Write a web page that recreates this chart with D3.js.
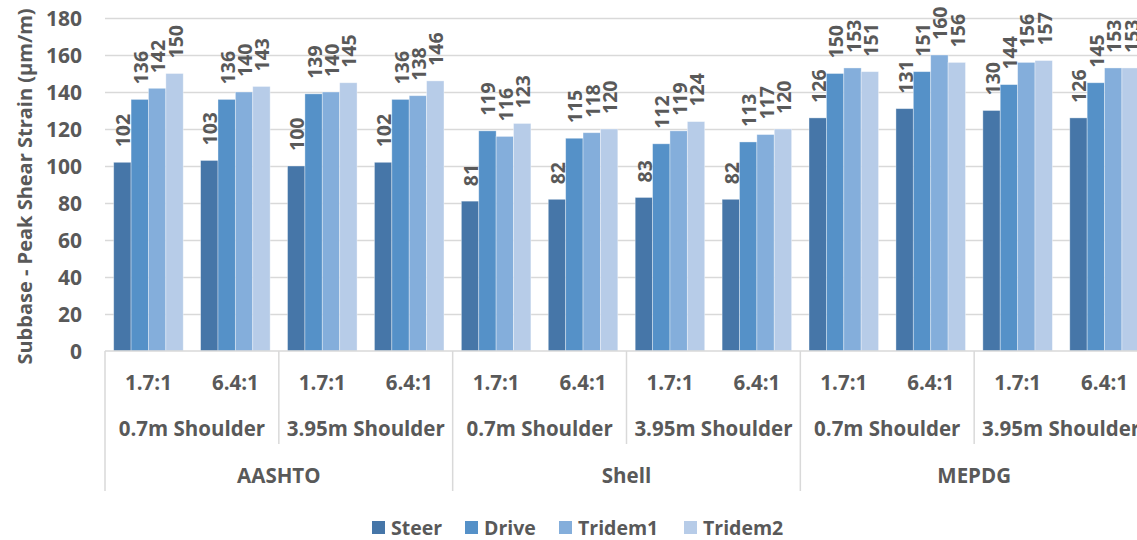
<!DOCTYPE html>
<html>
<head>
<meta charset="utf-8">
<script src="https://cdn.jsdelivr.net/npm/d3@7"></script>
<style>
  html, body { margin: 0; padding: 0; background: #fff; }
  svg { display: block; }
  text { font-family: "Open Sans", sans-serif; font-weight: 700; fill: #595959; }
</style>
</head>
<body>
<svg id="chart" width="1137" height="540"></svg>
<script>
// Subbase peak shear strain by axle type, grouped by load ratio / shoulder width / design method
const series = ["Steer", "Drive", "Tridem1", "Tridem2"];
const ratios = ["1.7:1", "6.4:1", "1.7:1", "6.4:1", "1.7:1", "6.4:1", "1.7:1", "6.4:1", "1.7:1", "6.4:1", "1.7:1", "6.4:1"];
const shoulders = ["0.7m Shoulder", "3.95m Shoulder", "0.7m Shoulder", "3.95m Shoulder", "0.7m Shoulder", "3.95m Shoulder"];
const methods = ["AASHTO", "Shell", "MEPDG"];
const steer   = [102, 103, 100, 102, 81, 82, 83, 82, 126, 131, 130, 126];
const drive   = [136, 136, 139, 136, 119, 115, 112, 113, 150, 151, 144, 145];
const tridem1 = [142, 140, 140, 138, 116, 118, 119, 117, 153, 160, 156, 153];
const tridem2 = [150, 143, 145, 146, 123, 120, 124, 120, 151, 156, 157, 153];
const yTicks = [0, 20, 40, 60, 80, 100, 120, 140, 160, 180];
const colors = ["#4676a8", "#5591c8", "#84aedb", "#b7cce8"];

const seriesValues = [steer, drive, tridem1, tridem2];

const svg = d3.select("#chart");
const plotLeft = 105, plotRight = 1148, plotTop = 18, plotBottom = 351;

const x = d3.scaleBand().domain(d3.range(ratios.length)).range([plotLeft, plotRight]);
const xs = d3.scaleBand().domain(series).range([0, x.bandwidth()]).paddingOuter(0.5);
const y = d3.scaleLinear().domain([0, 180]).range([plotBottom, plotTop]);
const color = d3.scaleOrdinal().domain(series).range(colors);

// gridlines + y tick labels
const yAxis = d3.axisLeft(y).tickValues(yTicks).tickSize(-(plotRight - plotLeft)).tickPadding(23);
const gy = svg.append("g").attr("transform", `translate(${plotLeft},0)`).call(yAxis);
gy.select(".domain").remove();
gy.selectAll(".tick line").attr("stroke", "#d9d9d9").attr("stroke-width", 1.3);
gy.selectAll(".tick text").style("font-size", "21px").attr("dy", "0.36em").attr("fill", "#595959");
gy.selectAll(".tick").filter(d => d === 0).select("line").remove();

// y axis title
svg.append("text")
  .attr("transform", `translate(25, ${(plotTop + plotBottom) / 2 + 2}) rotate(-90)`)
  .attr("text-anchor", "middle")
  .attr("dy", "0.35em")
  .style("font-size", "20px")
  .text("Subbase - Peak Shear Strain (μm/m)");

// bars
const rows = ratios.map((r, i) => ({ i, values: series.map((s, k) => ({ s, v: seriesValues[k][i] })) }));
const groups = svg.append("g").selectAll("g").data(rows).join("g")
  .attr("transform", d => `translate(${x(d.i)},0)`);

groups.selectAll("rect").data(d => d.values).join("rect")
  .attr("x", d => xs(d.s))
  .attr("y", d => y(d.v))
  .attr("width", xs.bandwidth())
  .attr("height", d => y(0) - y(d.v))
  .attr("fill", d => color(d.s))
  .attr("stroke", "rgba(255,255,255,0.45)")
  .attr("stroke-width", 0.8);

// value labels, rotated above each bar
groups.selectAll("text").data(d => d.values).join("text")
  .attr("transform", d => `translate(${xs(d.s) + xs.bandwidth() / 2 + 1}, ${y(d.v) - 15}) rotate(-90)`)
  .attr("dy", "0.36em")
  .style("font-size", "19.5px")
  .text(d => d.v);

// category axis baseline
svg.append("line")
  .attr("x1", plotLeft).attr("x2", plotRight).attr("y1", plotBottom).attr("y2", plotBottom)
  .attr("stroke", "#d9d9d9").attr("stroke-width", 1.5);

const axisG = svg.append("g");
const bw = x.bandwidth();

// level 1: load ratio
axisG.selectAll("text.ratio").data(ratios).join("text")
  .attr("class", "ratio")
  .attr("x", (d, i) => x(i) + bw / 2)
  .attr("y", 383)
  .attr("text-anchor", "middle")
  .attr("dy", "0.35em")
  .style("font-size", "20.5px")
  .text(d => d);

// level 2: shoulder width
axisG.selectAll("text.shoulder").data(shoulders).join("text")
  .attr("class", "shoulder")
  .attr("x", (d, i) => x(i * 2) + bw)
  .attr("y", 429)
  .attr("text-anchor", "middle")
  .attr("dy", "0.35em")
  .style("font-size", "20.5px")
  .text(d => d);

// level 3: design method
axisG.selectAll("text.method").data(methods).join("text")
  .attr("class", "method")
  .attr("x", (d, i) => x(i * 4) + bw * 2)
  .attr("y", 476)
  .attr("text-anchor", "middle")
  .attr("dy", "0.35em")
  .style("font-size", "20.5px")
  .text(d => d);

// separators between shoulder groups (short) and method groups (long)
const shoulderEdges = d3.range(1, shoulders.length).filter(k => k % 2 === 1).map(k => x(k * 2));
const methodEdges = [plotLeft].concat(d3.range(1, methods.length).map(k => x(k * 4)));
axisG.selectAll("line.sh").data(shoulderEdges).join("line")
  .attr("x1", d => d).attr("x2", d => d).attr("y1", plotBottom).attr("y2", 444)
  .attr("stroke", "#d9d9d9").attr("stroke-width", 1.5);
axisG.selectAll("line.me").data(methodEdges).join("line")
  .attr("x1", d => d).attr("x2", d => d).attr("y1", plotBottom).attr("y2", 491)
  .attr("stroke", "#d9d9d9").attr("stroke-width", 1.5);

// legend
const legendX = [372, 465, 559, 684];
const legend = svg.append("g").selectAll("g").data(series).join("g")
  .attr("transform", (d, i) => `translate(${legendX[i]}, 521)`);
legend.append("rect").attr("width", 13).attr("height", 13).attr("fill", d => color(d));
legend.append("text").attr("x", 19).attr("y", 6.5).attr("dy", "0.36em")
  .style("font-size", "19.5px").text(d => d);
</script>
</body>
</html>
